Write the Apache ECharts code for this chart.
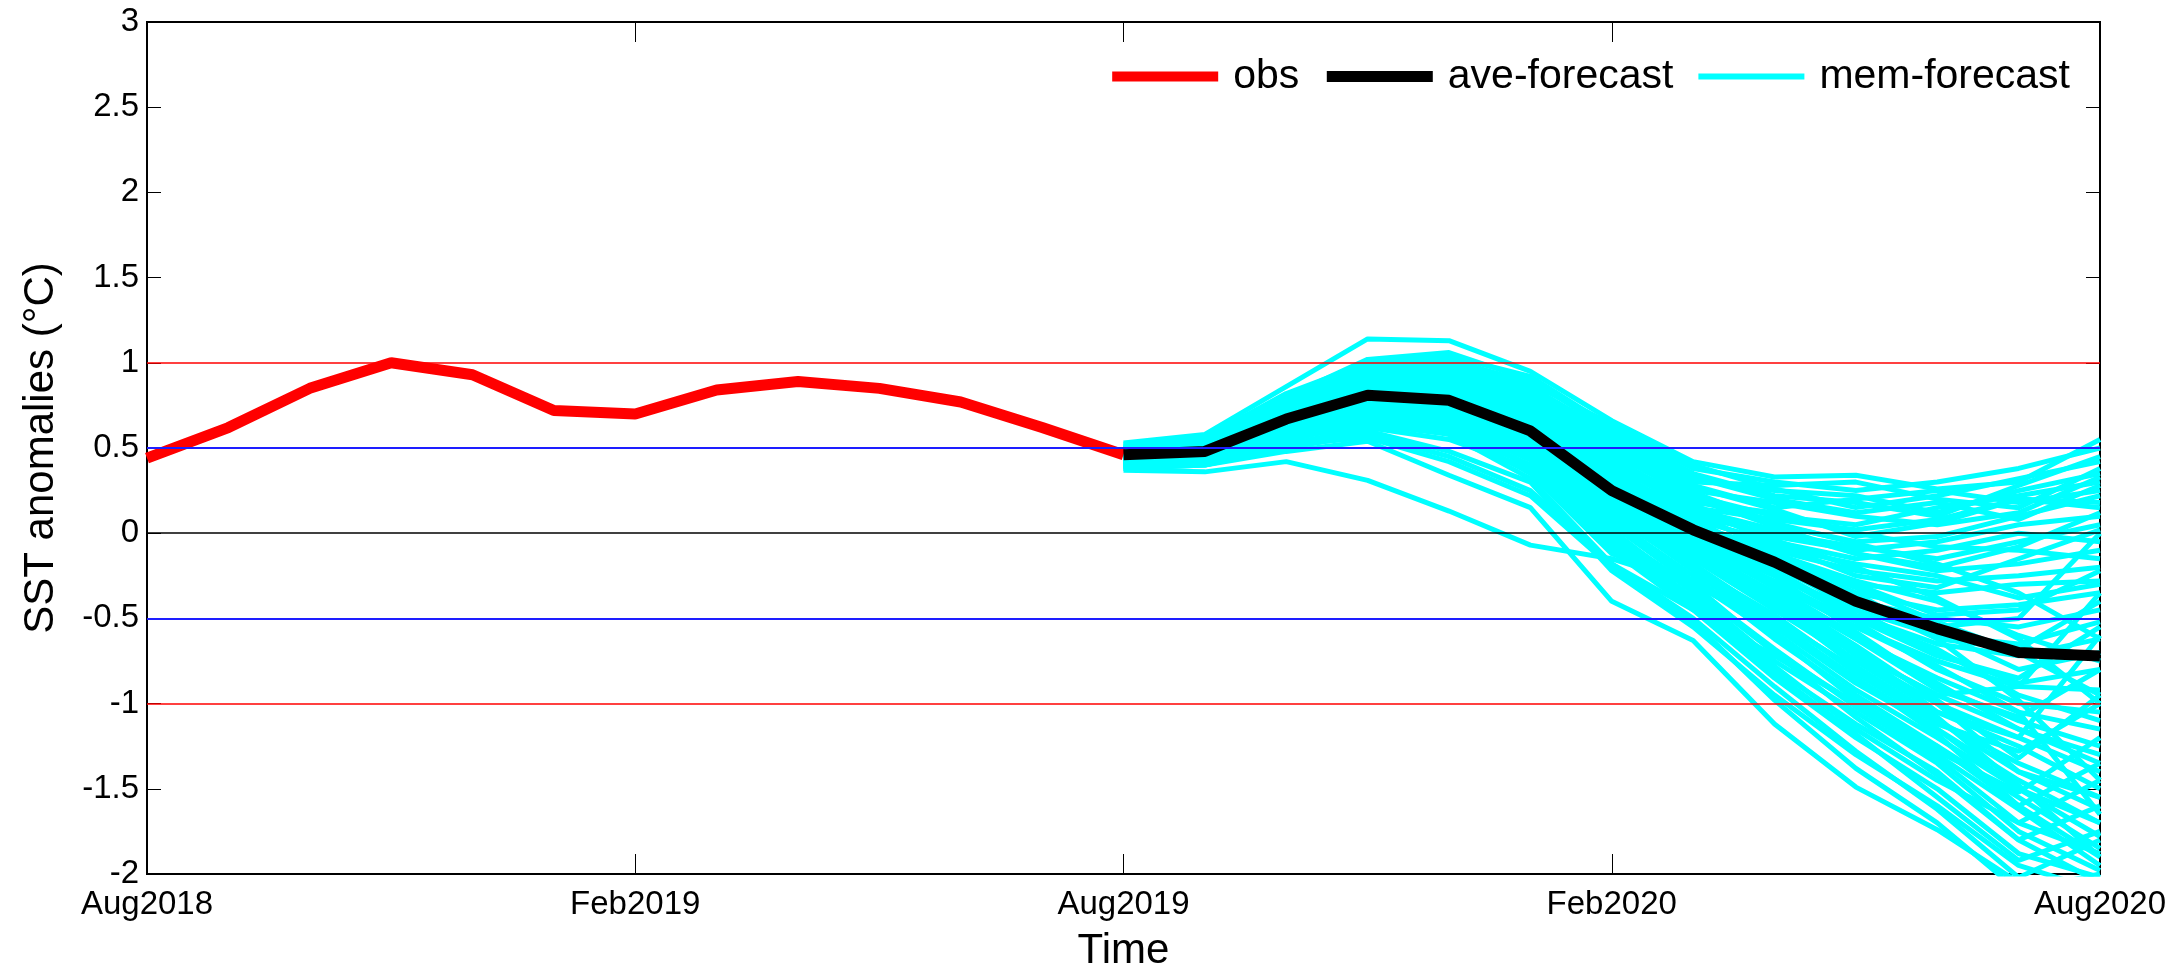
<!DOCTYPE html>
<html>
<head>
<meta charset="utf-8">
<script src="https://cdn.jsdelivr.net/npm/echarts@6/dist/echarts.min.js"></script>
<style>
html,body{margin:0;padding:0;background:#fff;}
#chart{width:2175px;height:977px;}
</style>
</head>
<body>
<div id="chart"></div>
<script>
// ---- data ----
const months = ['Aug2018','Sep2018','Oct2018','Nov2018','Dec2018','Jan2019','Feb2019','Mar2019','Apr2019','May2019','Jun2019','Jul2019',
  'Aug2019','Sep2019','Oct2019','Nov2019','Dec2019','Jan2020','Feb2020','Mar2020','Apr2020','May2020','Jun2020','Jul2020','Aug2020'];
const yTicks = [-2, -1.5, -1, -0.5, 0, 0.5, 1, 1.5, 2, 2.5, 3];
const thresholdRed = [1, -1];
const thresholdBlue = [0.5, -0.5];
const thresholdZero = [0];

// observed, Aug2018..Aug2019
const obs = [0.44, 0.62, 0.85, 1.00, 0.93, 0.72, 0.70, 0.84, 0.89, 0.85, 0.77, 0.62, 0.46];
// ensemble mean, Aug2019..Aug2020
const aveForecast = [0.46, 0.48, 0.67, 0.81, 0.78, 0.60, 0.25, 0.02, -0.17, -0.40, -0.56, -0.70, -0.72];
// ensemble members, Aug2019..Aug2020
const memForecast = [
  [0.53,0.58,0.86,1.14,1.13,0.95,0.66,0.42,0.33,0.34,0.26,0.30,0.55],
  [0.50,0.55,0.80,1.02,1.06,0.90,0.60,0.35,0.22,0.18,0.10,0.28,0.45],
  [0.48,0.52,0.78,0.98,1.00,0.85,0.55,0.30,0.28,0.30,0.20,0.15,0.38],
  [0.47,0.50,0.72,0.92,0.95,0.80,0.50,0.25,0.18,0.10,0.05,0.12,0.33],
  [0.45,0.49,0.70,0.90,0.92,0.78,0.48,0.22,0.10,0.05,0.15,0.22,0.30],
  [0.44,0.47,0.68,0.88,0.88,0.72,0.42,0.20,0.05,-0.05,-0.02,0.10,0.22],
  [0.46,0.48,0.66,0.85,0.85,0.70,0.40,0.15,0.08,0.02,0.08,0.20,0.15],
  [0.43,0.46,0.64,0.82,0.84,0.68,0.35,0.12,-0.02,-0.10,-0.05,0.05,0.10],
  [0.49,0.51,0.69,0.86,0.82,0.65,0.32,0.10,0.00,-0.08,-0.15,-0.05,0.05],
  [0.42,0.45,0.62,0.80,0.80,0.62,0.30,0.08,-0.05,-0.15,-0.10,0.00,-0.05],
  [0.45,0.47,0.65,0.83,0.83,0.66,0.34,0.14,0.02,-0.12,-0.22,-0.18,-0.10],
  [0.47,0.49,0.67,0.84,0.79,0.60,0.28,0.05,-0.10,-0.22,-0.28,-0.25,-0.20],
  [0.44,0.46,0.63,0.79,0.76,0.58,0.26,0.02,-0.15,-0.30,-0.35,-0.30,-0.28],
  [0.46,0.48,0.65,0.81,0.77,0.58,0.24,0.00,-0.18,-0.35,-0.45,-0.42,-0.35],
  [0.41,0.44,0.60,0.76,0.74,0.56,0.22,-0.02,-0.20,-0.40,-0.50,-0.55,-0.45],
  [0.48,0.50,0.68,0.83,0.78,0.57,0.20,-0.05,-0.25,-0.45,-0.60,-0.65,-0.52],
  [0.43,0.45,0.62,0.78,0.75,0.55,0.21,-0.04,-0.22,-0.48,-0.65,-0.72,-0.62],
  [0.45,0.47,0.64,0.80,0.76,0.56,0.23,0.00,-0.20,-0.42,-0.58,-0.80,-0.70],
  [0.47,0.49,0.66,0.82,0.79,0.59,0.25,0.02,-0.18,-0.45,-0.70,-0.88,-0.80],
  [0.44,0.46,0.61,0.77,0.73,0.53,0.18,-0.08,-0.30,-0.55,-0.75,-0.90,-0.92],
  [0.46,0.48,0.64,0.80,0.75,0.54,0.19,-0.06,-0.28,-0.52,-0.80,-1.00,-1.05],
  [0.42,0.44,0.60,0.75,0.72,0.52,0.17,-0.10,-0.35,-0.62,-0.85,-1.05,-1.15],
  [0.48,0.50,0.67,0.82,0.78,0.57,0.22,-0.03,-0.25,-0.58,-0.90,-1.10,-1.25],
  [0.45,0.47,0.63,0.79,0.74,0.53,0.16,-0.12,-0.40,-0.70,-0.95,-1.15,-1.30],
  [0.43,0.45,0.61,0.76,0.72,0.51,0.14,-0.15,-0.45,-0.75,-1.00,-1.20,-1.40],
  [0.46,0.48,0.65,0.81,0.76,0.55,0.18,-0.10,-0.38,-0.68,-1.05,-1.25,-1.50],
  [0.44,0.46,0.62,0.78,0.73,0.52,0.15,-0.18,-0.50,-0.80,-1.10,-1.35,-1.55],
  [0.47,0.49,0.66,0.81,0.77,0.56,0.20,-0.08,-0.35,-0.72,-1.00,-1.40,-1.62],
  [0.42,0.44,0.59,0.74,0.70,0.48,0.10,-0.20,-0.55,-0.88,-1.15,-1.45,-1.70],
  [0.45,0.47,0.63,0.78,0.74,0.50,0.12,-0.22,-0.58,-0.92,-1.20,-1.50,-1.78],
  [0.43,0.45,0.60,0.75,0.71,0.49,0.08,-0.25,-0.62,-0.95,-1.25,-1.55,-1.85],
  [0.46,0.48,0.64,0.79,0.75,0.52,0.13,-0.18,-0.52,-0.85,-1.18,-1.60,-1.90],
  [0.44,0.46,0.61,0.76,0.72,0.47,0.05,-0.30,-0.70,-1.00,-1.30,-1.62,-1.95],
  [0.41,0.43,0.58,0.72,0.68,0.45,0.02,-0.35,-0.75,-1.05,-1.35,-1.75,-1.98],
  [0.38,0.40,0.52,0.62,0.55,0.38,-0.05,-0.40,-0.80,-1.12,-1.40,-1.80,-2.05],
  [0.37,0.36,0.42,0.31,0.13,-0.07,-0.15,-0.30,-0.50,-0.80,-1.10,-1.40,-1.55],
  [0.40,0.40,0.48,0.54,0.34,0.15,-0.40,-0.63,-1.12,-1.49,-1.74,-2.05,-2.20],
  [0.39,0.42,0.50,0.60,0.48,0.30,-0.22,-0.55,-0.95,-1.30,-1.60,-1.95,-2.10],
  [0.41,0.43,0.55,0.68,0.62,0.40,-0.10,-0.45,-0.85,-1.20,-1.50,-1.88,-2.02],
  [0.40,0.42,0.56,0.70,0.65,0.44,0.00,-0.32,-0.68,-1.02,-1.32,-1.70,-1.88],
  [0.48,0.53,0.75,0.95,0.96,0.82,0.52,0.28,0.15,0.20,0.25,0.18,0.25],
  [0.50,0.54,0.77,0.96,0.98,0.84,0.56,0.32,0.25,0.22,0.12,0.25,0.35],
  [0.46,0.49,0.71,0.89,0.90,0.74,0.44,0.18,0.12,0.00,-0.08,-0.10,-0.15],
  [0.45,0.48,0.69,0.87,0.87,0.71,0.38,0.10,-0.08,-0.18,-0.25,-0.38,-0.30],
  [0.44,0.47,0.67,0.84,0.82,0.63,0.30,0.04,-0.12,-0.28,-0.40,-0.60,-0.75],
  [0.47,0.50,0.70,0.86,0.84,0.64,0.29,0.06,-0.14,-0.32,-0.52,-0.70,-0.95],
  [0.43,0.46,0.63,0.78,0.76,0.57,0.24,-0.02,-0.22,-0.50,-0.68,-0.95,-1.10],
  [0.45,0.47,0.62,0.77,0.73,0.54,0.20,-0.05,-0.32,-0.60,-0.88,-1.15,-1.35],
  [0.46,0.48,0.64,0.80,0.76,0.55,0.19,-0.08,-0.40,-0.75,-1.05,-1.20,-0.60],
  [0.44,0.46,0.62,0.78,0.74,0.52,0.15,-0.12,-0.45,-0.70,-0.95,-0.90,-0.35],
  [0.47,0.49,0.66,0.82,0.78,0.58,0.24,0.00,-0.20,-0.38,-0.55,-0.50,0.00],
  [0.43,0.45,0.61,0.77,0.74,0.55,0.20,-0.05,-0.30,-0.55,-0.78,-1.05,-1.65],
  [0.52,0.56,0.82,1.00,1.04,0.92,0.62,0.38,0.30,0.25,0.30,0.38,0.50],
  [0.51,0.54,0.79,0.97,1.02,0.88,0.64,0.40,0.26,0.15,0.22,0.32,0.42],
  [0.49,0.53,0.76,0.94,0.99,0.86,0.58,0.33,0.20,0.12,0.18,0.08,0.28],
  [0.47,0.51,0.74,0.93,0.97,0.83,0.53,0.27,0.14,-0.02,0.06,0.20,0.18],
  [0.46,0.50,0.73,0.91,0.94,0.79,0.47,0.21,0.04,-0.12,-0.20,-0.08,0.12],
  [0.45,0.48,0.70,0.88,0.90,0.76,0.45,0.16,-0.06,-0.25,-0.32,-0.15,0.02],
  [0.44,0.47,0.68,0.86,0.86,0.73,0.41,0.13,-0.12,-0.30,-0.48,-0.45,-0.22],
  [0.43,0.46,0.66,0.84,0.83,0.69,0.37,0.09,-0.18,-0.40,-0.62,-0.68,-0.40],
  [0.42,0.45,0.64,0.81,0.80,0.66,0.33,0.06,-0.24,-0.50,-0.72,-0.85,-0.55],
  [0.44,0.46,0.62,0.78,0.77,0.61,0.27,-0.01,-0.32,-0.62,-0.92,-1.08,-0.80],
  [0.41,0.43,0.58,0.73,0.70,0.50,0.11,-0.20,-0.48,-0.82,-1.12,-1.28,-1.00],
  [0.40,0.42,0.56,0.70,0.66,0.46,0.06,-0.28,-0.60,-0.98,-1.28,-1.52,-1.20],
  [0.39,0.41,0.54,0.66,0.60,0.40,-0.02,-0.38,-0.78,-1.15,-1.45,-1.70,-1.45],
  [0.38,0.40,0.50,0.58,0.45,0.25,-0.18,-0.50,-0.90,-1.28,-1.62,-2.02,-1.80],
  [0.40,0.41,0.52,0.56,0.42,0.22,-0.20,-0.52,-0.98,-1.38,-1.70,-2.10,-2.00],
  [0.41,0.43,0.55,0.64,0.58,0.36,-0.08,-0.42,-0.82,-1.18,-1.55,-1.92,-1.75],
  [0.42,0.44,0.57,0.69,0.64,0.43,-0.02,-0.33,-0.70,-1.08,-1.42,-1.80,-1.60],
  [0.45,0.47,0.63,0.79,0.75,0.56,0.19,-0.12,-0.42,-0.78,-1.08,-1.48,-1.90],
  [0.47,0.49,0.66,0.83,0.80,0.62,0.27,0.03,-0.15,-0.35,-0.62,-0.98,-1.45],
  [0.48,0.51,0.71,0.89,0.88,0.73,0.43,0.17,-0.04,-0.20,-0.38,-0.62,-1.00],
  [0.50,0.53,0.74,0.92,0.93,0.78,0.49,0.24,0.06,-0.06,-0.18,-0.35,-0.62],
  [0.46,0.48,0.64,0.80,0.76,0.55,0.18,-0.10,-0.36,-0.66,-0.98,-1.32,-0.95],
  [0.41,0.43,0.57,0.72,0.62,0.35,-0.12,-0.30,-0.55,-0.85,-1.15,-1.50,-1.70],
  [0.42,0.44,0.58,0.70,0.58,0.32,-0.18,-0.45,-0.72,-1.00,-1.25,-1.60,-1.35]
];

// ---- build ----
const FONT = 'Liberation Sans, Arial, sans-serif';
const forecastStart = months.indexOf('Aug2019');
function pad(arr, start) {
  const out = months.map(() => null);
  arr.forEach((v, i) => { out[start + i] = v; });
  return out;
}

const series = [];
series.push({
  name: 'obs', type: 'line', data: pad(obs, 0), symbol: 'none',
  lineStyle: { color: '#FF0000', width: 11 }, itemStyle: { color: '#FF0000' }, z: 3
});
memForecast.forEach(m => {
  series.push({
    name: 'mem-forecast', type: 'line', data: pad(m, forecastStart), symbol: 'none',
    lineStyle: { color: '#00FFFF', width: 5 }, itemStyle: { color: '#00FFFF' }, z: 2
  });
});
series.push({
  name: 'ave-forecast', type: 'line', data: pad(aveForecast, forecastStart), symbol: 'none',
  lineStyle: { color: '#000000', width: 11 }, itemStyle: { color: '#000000' }, z: 4
});
const ml = (vals, color, width) => vals.map(v => ({ yAxis: v, lineStyle: { color: color, width: width, type: 'solid' } }));
series.push({
  name: 'thresholds', type: 'line', data: [], symbol: 'none', z: 5, silent: true,
  markLine: {
    silent: true, symbol: 'none', label: { show: false }, animation: false,
    data: [].concat(ml(thresholdRed, '#FF0000', 1.5), ml(thresholdBlue, '#1E1EFF', 2), ml(thresholdZero, '#000000', 1.5))
  }
});

const chart = echarts.init(document.getElementById('chart'), null, { renderer: 'canvas' });
chart.setOption({
  animation: false,
  backgroundColor: '#ffffff',
  grid: { left: 147, right: 75, top: 22, bottom: 102, show: true, borderColor: '#000', borderWidth: 2, backgroundColor: 'transparent' },
  legend: {
    right: 105, top: 56, padding: 0, itemWidth: 106, itemHeight: 11, itemGap: 22,
    textStyle: { fontFamily: FONT, fontSize: 41, color: '#000', padding: [0, 0, 0, 10] },
    data: [
      { name: 'obs', lineStyle: { width: 10 }, itemStyle: { opacity: 0 } },
      { name: 'ave-forecast', lineStyle: { width: 11 }, itemStyle: { opacity: 0 } },
      { name: 'mem-forecast', lineStyle: { width: 6 }, itemStyle: { opacity: 0 } }
    ]
  },
  xAxis: [{
    type: 'category', data: months, boundaryGap: false,
    name: 'Time', nameLocation: 'middle', nameGap: 56,
    nameTextStyle: { fontFamily: FONT, fontSize: 42, color: '#000' },
    axisLine: { show: true, onZero: false, lineStyle: { color: '#000', width: 2 } },
    axisTick: { show: true, inside: true, length: 20, interval: 5, lineStyle: { color: '#000', width: 1 } },
    axisLabel: { interval: 5, fontFamily: FONT, fontSize: 33, color: '#000', margin: 14 },
    splitLine: { show: false }
  }, {
    type: 'category', data: months, boundaryGap: false, position: 'top',
    axisLine: { show: true, onZero: false, lineStyle: { color: '#000', width: 2 } },
    axisTick: { show: true, inside: true, length: 20, interval: 5, lineStyle: { color: '#000', width: 1 } },
    axisLabel: { show: false }, splitLine: { show: false }
  }],
  yAxis: [{
    type: 'value', min: yTicks[0], max: yTicks[yTicks.length - 1], interval: 0.5,
    name: 'SST anomalies (°C)', nameLocation: 'middle', nameGap: 85,
    nameTextStyle: { fontFamily: FONT, fontSize: 42, color: '#000' },
    axisLine: { show: true, lineStyle: { color: '#000', width: 2 } },
    axisTick: { show: true, inside: true, length: 14, lineStyle: { color: '#000', width: 1 } },
    axisLabel: { fontFamily: FONT, fontSize: 33, color: '#000', margin: 8 },
    splitLine: { show: false }
  }, {
    type: 'value', min: yTicks[0], max: yTicks[yTicks.length - 1], interval: 0.5, position: 'right',
    axisLine: { show: true, lineStyle: { color: '#000', width: 2 } },
    axisTick: { show: true, inside: true, length: 14, lineStyle: { color: '#000', width: 1 } },
    axisLabel: { show: false }, splitLine: { show: false }
  }],
  series: series
});
</script>
</body>
</html>
